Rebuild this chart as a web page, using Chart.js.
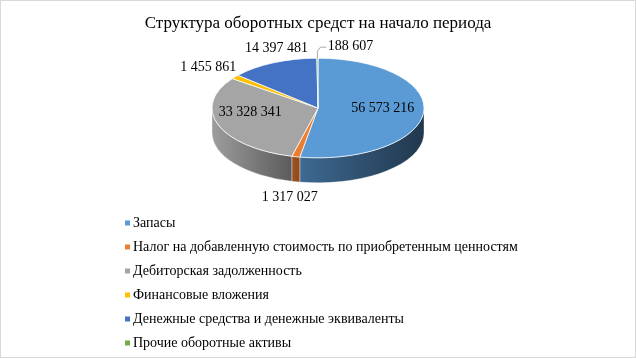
<!DOCTYPE html>
<html>
<head>
<meta charset="utf-8">
<script src="https://cdn.jsdelivr.net/npm/chart.js@4"></script>
<style>
    html, body { margin: 0; padding: 0; background: #fff; }
    #wrap { position: relative; width: 636px; height: 358px; }
    #frame { position: absolute; left: 0; top: 0; width: 636px; height: 358px; box-sizing: border-box; border: 1px solid #d9d9d9; pointer-events: none; }
</style>
</head>
<body>
<div id="wrap"><canvas id="structureChart"></canvas><div id="frame"></div></div>
<script>
// --- data ---
const categories = [
    'Запасы',
    'Налог на добавленную стоимость по приобретенным ценностям',
    'Дебиторская задолженность',
    'Финансовые вложения',
    'Денежные средства и денежные эквиваленты',
    'Прочие оборотные активы'
];
const values = [56573216, 1317027, 33328341, 1455861, 14397481, 188607];
const chartTitle = 'Структура оборотных средст на начало периода';

// --- style ---
const FONT = "'Liberation Serif', 'Times New Roman', serif";
const colors = ['#5B9BD5', '#ED7D31', '#A5A5A5', '#FFC000', '#4472C4', '#70AD47'];
const sideShade = [[0.68, 0.36], [0.66, 0.6], [0.95, 0.55], [0.7, 0.55], [0.62, 0.4], [0.6, 0.4]];
const labelInside = [true, false, true, false, false, false];
const labelNudge = [[-4, -2], [-6, 41], [-3, -7], [-27, -10], [3, -14], [33, -12]];
const tilt = 0.47;      // vertical squash of the pie top
const depth = 25;       // thickness of the pie
const centerY = 108;    // screen y of the top face centre

const fmt = v => String(v).replace(/\B(?=(\d{3})+(?!\d))/g, ' ');

function shade(hex, f) {
    const n = parseInt(hex.slice(1), 16);
    const r = Math.round(((n >> 16) & 255) * f);
    const g = Math.round(((n >> 8) & 255) * f);
    const b = Math.round((n & 255) * f);
    return `rgb(${r},${g},${b})`;
}

const pie3d = {
    id: 'pie3d',
    beforeDatasetsDraw(chart) {
        const ctx = chart.ctx;
        const arcs = chart.getDatasetMeta(0).data;
        // side walls, front half only
        ctx.save();
        arcs.forEach((arc, i) => {
            const R = arc.outerRadius;
            const a1 = Math.max(arc.startAngle, 0);
            const a2 = Math.min(arc.endAngle, Math.PI);
            if (a2 <= a1) return;
            const xr = arc.x + R * Math.cos(a1);
            const xl = arc.x + R * Math.cos(a2);
            const grad = ctx.createLinearGradient(xl, 0, xr, 0);
            grad.addColorStop(0, shade(colors[i], sideShade[i][0]));
            grad.addColorStop(1, shade(colors[i], sideShade[i][1]));
            ctx.beginPath();
            ctx.ellipse(arc.x, centerY, R, R * tilt, 0, a1, a2);
            ctx.ellipse(arc.x, centerY + depth, R, R * tilt, 0, a2, a1, true);
            ctx.closePath();
            ctx.fillStyle = grad;
            ctx.fill();
            ctx.strokeStyle = 'rgba(255,255,255,0.45)';
            ctx.lineWidth = 0.8;
            ctx.stroke();
        });
        ctx.restore();

        // squash the top face
        const cy = arcs[0].y;
        ctx.save();
        ctx.translate(0, centerY);
        ctx.scale(1, tilt);
        ctx.translate(0, -cy);
    },
    afterDatasetsDraw(chart) {
        chart.ctx.restore();
    },
    afterDraw(chart) {
        const ctx = chart.ctx;
        const arcs = chart.getDatasetMeta(0).data;
        ctx.save();
        ctx.fillStyle = '#000';
        ctx.font = `14px ${FONT}`;
        ctx.textAlign = 'center';
        ctx.textBaseline = 'middle';

        // data labels
        arcs.forEach((arc, i) => {
            const R = arc.outerRadius;
            const mid = (arc.startAngle + arc.endAngle) / 2;
            const f = labelInside[i] ? 0.65 : 1;
            const ax = arc.x + f * R * Math.cos(mid);
            const ay = centerY + f * R * tilt * Math.sin(mid);
            const lx = ax + labelNudge[i][0];
            const ly = ay + labelNudge[i][1];
            if (i === 5) {
                ctx.strokeStyle = '#a6a6a6';
                ctx.lineWidth = 1;
                ctx.beginPath();
                ctx.moveTo(ax, ay);
                ctx.lineTo(ax, ay - 7);
                ctx.lineTo(ax + 3, ay - 11);
                ctx.lineTo(lx - 24, ay - 11);
                ctx.stroke();
            }
            ctx.fillText(fmt(values[i]), lx, ly);
        });

        // legend
        ctx.textAlign = 'left';
        ctx.font = `14px ${FONT}`;
        categories.forEach((name, i) => {
            const y = 223 + i * 24;
            ctx.fillStyle = colors[i];
            ctx.fillRect(125, y - 2.5, 5, 5);
            ctx.fillStyle = '#000';
            ctx.fillText(name, 133, y);
        });
        ctx.restore();
    }
};

Chart.defaults.font.family = FONT;

const ctx = document.getElementById('structureChart').getContext('2d');
new Chart(ctx, {
    type: 'pie',
    data: {
        labels: categories,
        datasets: [{
            data: values,
            backgroundColor: colors,
            borderColor: '#ffffff',
            borderWidth: 1,
            clip: false
        }]
    },
    options: {
        responsive: true,
        maintainAspectRatio: false,
        animation: false,
        radius: 106,
        events: [],
        plugins: {
            legend: { display: false },
            tooltip: { enabled: false },
            title: {
                display: true,
                text: chartTitle,
                color: '#000',
                font: { family: FONT, size: 17, weight: 'normal' },
                padding: { top: 13, bottom: 10 }
            }
        }
    },
    plugins: [pie3d]
});
</script>
</body>
</html>
